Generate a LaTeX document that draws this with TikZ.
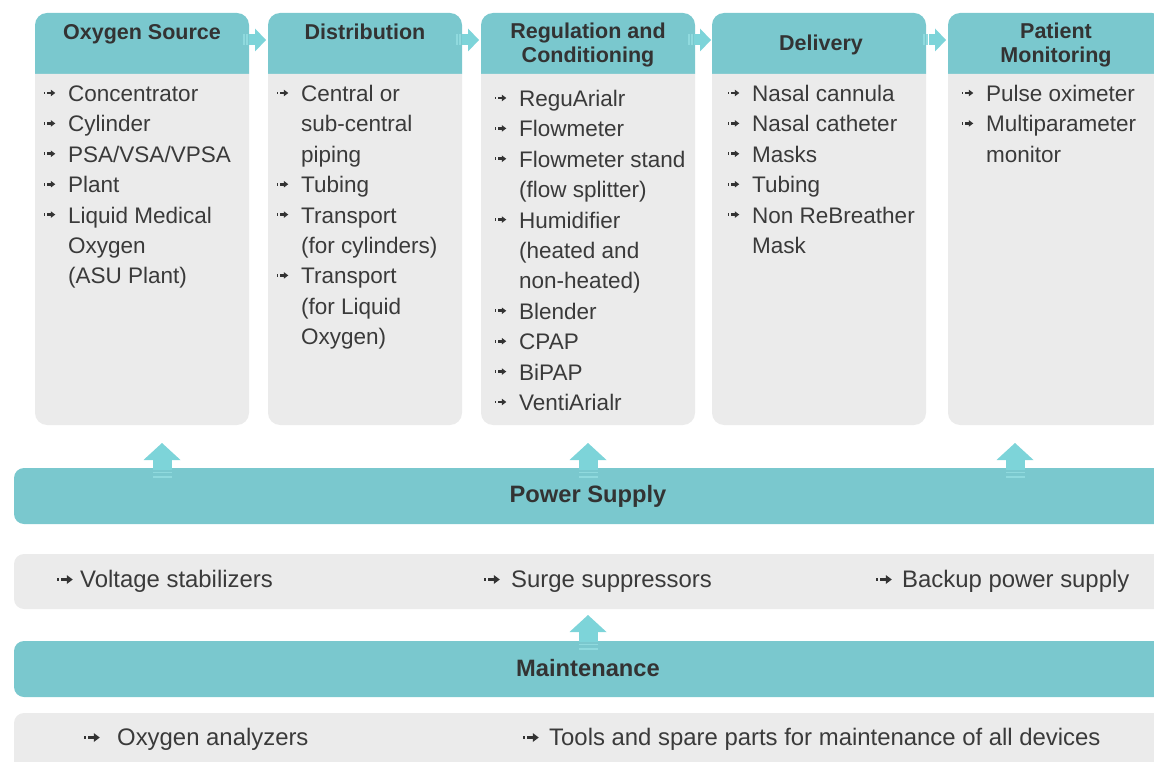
\documentclass[tikz,border=0pt]{standalone}
\usepackage{fontspec}
\setmainfont{Liberation Sans}
\definecolor{hdrteal}{HTML}{7AC8CE}
\definecolor{arrowteal}{HTML}{7DD4D9}
\definecolor{stripeteal}{HTML}{90DADE}
\definecolor{panelgrey}{HTML}{EBEBEB}
\definecolor{inkgrey}{HTML}{3A3A3A}
\definecolor{headgrey}{HTML}{333333}

\newcommand{\sidearrow}[2]{%
  \fill[arrowteal] (#1-11,#2-11.5) -- (#1,#2) -- (#1-11,#2+11.5) -- cycle;
  \fill[arrowteal] (#1-17,#2-5.5) rectangle (#1-10.5,#2+5.5);
  \fill[stripeteal] (#1-20,#2-5.5) rectangle (#1-18.5,#2+5.5);
  \fill[stripeteal] (#1-23,#2-5.5) rectangle (#1-21.5,#2+5.5);}
\newcommand{\liftarrow}[2]{%
  \fill[arrowteal] (#1-18.5,#2+17) -- (#1,#2) -- (#1+18.5,#2+17) -- cycle;
  \fill[arrowteal] (#1-9.5,#2+16.5) rectangle (#1+9.5,#2+27);
  \fill[stripeteal] (#1-9.5,#2+28.5) rectangle (#1+9.5,#2+30);
  \fill[stripeteal] (#1-9.5,#2+33) rectangle (#1+9.5,#2+35);}

\tikzset{
  tip/.pic={
    \fill[headgrey] (-8,-1.2) rectangle (-6.4,1.2);
    \fill[headgrey] (-5.4,-1.2) rectangle (-1,1.2);
    \fill[headgrey] (-1.5,-3) -- (2.5,0) -- (-1.5,3) -- cycle;
  },
  item/.style={anchor=base west, inner sep=0pt, text=inkgrey,
    font=\fontsize{22.5}{27}\selectfont},
  bulleted/.style={item, append after command={
    ([xshift=-15.5pt, yshift=8.5pt]\tikzlastnode.base west) pic[scale=1.1] {tip}}},
  baritem/.style={anchor=base west, inner sep=0pt, text=inkgrey,
    font=\fontsize{23.9}{28}\selectfont, append after command={
    ([xshift=-#1, yshift=7.5pt]\tikzlastnode.base west) pic[scale=1.5] {tip}}},
  baritem/.default=14pt,
  colhead/.style={inner sep=0pt, text=headgrey, align=center,
    font=\bfseries\fontsize{21.5}{24.5}\selectfont},
  bartitle/.style={anchor=base, inner sep=0pt, text=headgrey,
    font=\bfseries\fontsize{23.7}{28}\selectfont},
}

\begin{document}
\begin{tikzpicture}[x=1pt, y=-1pt]
\useasboundingbox (0,0) rectangle (1154,762);
\clip (0,0) rectangle (1154,762);

\fill[hdrteal] (35,74) [rounded corners=12pt] -- (35,13) -- (249,13) [sharp corners] -- (249,74) -- cycle;
\fill[panelgrey] (35,74) [rounded corners=12pt] -- (35,425) -- (249,425) [sharp corners] -- (249,74) -- cycle;
\fill[hdrteal] (268,74) [rounded corners=12pt] -- (268,13) -- (462,13) [sharp corners] -- (462,74) -- cycle;
\fill[panelgrey] (268,74) [rounded corners=12pt] -- (268,425) -- (462,425) [sharp corners] -- (462,74) -- cycle;
\fill[hdrteal] (481,74) [rounded corners=12pt] -- (481,13) -- (695,13) [sharp corners] -- (695,74) -- cycle;
\fill[panelgrey] (481,74) [rounded corners=12pt] -- (481,425) -- (695,425) [sharp corners] -- (695,74) -- cycle;
\fill[hdrteal] (712,74) [rounded corners=12pt] -- (712,13) -- (926,13) [sharp corners] -- (926,74) -- cycle;
\fill[panelgrey] (712,74) [rounded corners=12pt] -- (712,425) -- (926,425) [sharp corners] -- (926,74) -- cycle;
\fill[hdrteal] (948,74) [rounded corners=12pt] -- (948,13) -- (1164,13) [sharp corners] -- (1164,74) -- cycle;
\fill[panelgrey] (948,74) [rounded corners=12pt] -- (948,425) -- (1164,425) [sharp corners] -- (1164,74) -- cycle;

\fill[hdrteal, rounded corners=10pt] (14,468) rectangle (1180,524);
\fill[panelgrey, rounded corners=10pt] (14,554) rectangle (1180,609);
\fill[hdrteal, rounded corners=10pt] (14,641) rectangle (1180,697);
\fill[panelgrey, rounded corners=10pt] (14,713) rectangle (1180,790);

\sidearrow{266}{40}
\sidearrow{479}{40}
\sidearrow{711}{40}
\sidearrow{946}{40}
\liftarrow{162}{443}
\liftarrow{588}{443}
\liftarrow{1015}{443}
\liftarrow{588}{615}

\node[colhead, anchor=base] (src) at (142,39.5) {Oxygen Source};
\node[colhead, anchor=base] (dist) at (365,39.5) {Distribution};
\node[colhead, anchor=north] (reg) at (588,22.5) {Regulation and\\Conditioning};
\node[colhead, anchor=base] (deliv) at (821,51) {Delivery};
\node[colhead, anchor=north] (mon) at (1056,22.5) {Patient\\Monitoring};

\node[bulleted] (src-1) at (68,101.5) {Concentrator};
\node[bulleted] (src-2) at (68,131.9) {Cylinder};
\node[bulleted] (src-3) at (68,162.3) {PSA/VSA/VPSA};
\node[bulleted] (src-4) at (68,192.7) {Plant};
\node[bulleted] (src-5) at (68,223.1) {Liquid Medical};
\node[item] (src-5b) at (68,253.5) {Oxygen};
\node[item] (src-5c) at (68,283.9) {(ASU Plant)};

\node[bulleted] (dist-1) at (301,101.5) {Central or};
\node[item] (dist-1b) at (301,131.9) {sub-central};
\node[item] (dist-1c) at (301,162.3) {piping};
\node[bulleted] (dist-2) at (301,192.7) {Tubing};
\node[bulleted] (dist-3) at (301,223.1) {Transport};
\node[item] (dist-3b) at (301,253.5) {(for cylinders)};
\node[bulleted] (dist-4) at (301,283.9) {Transport};
\node[item] (dist-4b) at (301,314.3) {(for Liquid};
\node[item] (dist-4c) at (301,344.7) {Oxygen)};

\node[bulleted] (reg-1) at (519,106.5) {ReguArialr};
\node[bulleted] (reg-2) at (519,136.9) {Flowmeter};
\node[bulleted] (reg-3) at (519,167.3) {Flowmeter stand};
\node[item] (reg-3b) at (519,197.7) {(flow splitter)};
\node[bulleted] (reg-4) at (519,228.1) {Humidifier};
\node[item] (reg-4b) at (519,258.5) {(heated and};
\node[item] (reg-4c) at (519,288.9) {non-heated)};
\node[bulleted] (reg-5) at (519,319.3) {Blender};
\node[bulleted] (reg-6) at (519,349.7) {CPAP};
\node[bulleted] (reg-7) at (519,380.1) {BiPAP};
\node[bulleted] (reg-8) at (519,410.5) {VentiArialr};

\node[bulleted] (deliv-1) at (752,101.5) {Nasal cannula};
\node[bulleted] (deliv-2) at (752,131.9) {Nasal catheter};
\node[bulleted] (deliv-3) at (752,162.3) {Masks};
\node[bulleted] (deliv-4) at (752,192.7) {Tubing};
\node[bulleted] (deliv-5) at (752,223.1) {Non ReBreather};
\node[item] (deliv-5b) at (752,253.5) {Mask};

\node[bulleted] (mon-1) at (986,101.5) {Pulse oximeter};
\node[bulleted] (mon-2) at (986,131.9) {Multiparameter};
\node[item] (mon-2b) at (986,162.3) {monitor};

\node[bartitle] (power) at (588,502.5) {Power Supply};
\node[baritem=11pt] (power-1) at (80,587) {Voltage stabilizers};
\node[baritem=15pt] (power-2) at (511,587) {Surge suppressors};
\node[baritem=14pt] (power-3) at (902,587) {Backup power supply};

\node[bartitle] (maint) at (588,676.5) {Maintenance};
\node[baritem=21pt] (maint-1) at (117,745) {Oxygen analyzers};
\node[baritem=14pt] (maint-2) at (549,745) {Tools and spare parts for maintenance of all devices};
\end{tikzpicture}
\end{document}
